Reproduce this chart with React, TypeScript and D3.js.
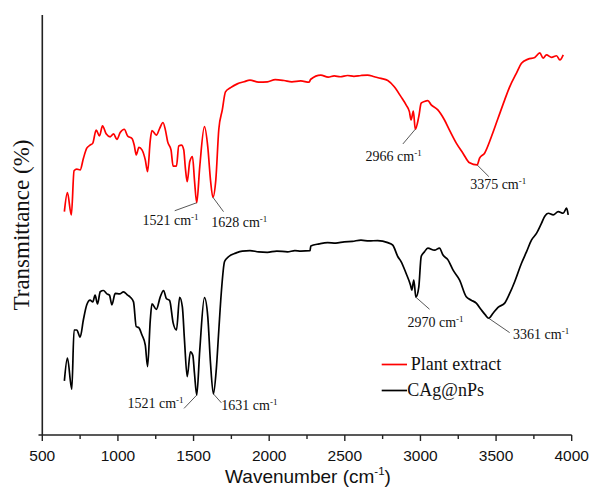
import React from "react";
import * as d3 from "d3";

// Plant extract spectrum: [wavenumber (cm-1), transmittance (arb. %)]
const plantWavenumber = [646, 666, 692, 710, 728, 750, 772, 794, 816, 834, 856, 878, 898, 922, 949, 971, 993, 1015, 1042, 1064, 1093, 1108, 1121, 1139, 1159, 1181, 1196, 1214, 1225, 1254, 1276, 1298, 1314, 1329, 1351, 1365, 1387, 1402, 1420, 1435, 1446, 1458, 1475, 1493, 1506, 1521, 1541, 1572, 1594, 1612, 1628, 1647, 1667, 1690, 1711, 1745, 1789, 1833, 1873, 1930, 1988, 2040, 2098, 2150, 2209, 2264, 2275, 2341, 2390, 2430, 2470, 2518, 2560, 2607, 2650, 2695, 2739, 2784, 2827, 2872, 2905, 2927, 2938, 2953, 2966, 2989, 3005, 3026, 3049, 3071, 3115, 3159, 3192, 3237, 3281, 3325, 3375, 3391, 3424, 3469, 3513, 3557, 3590, 3634, 3668, 3712, 3756, 3789, 3811, 3833, 3867, 3900, 3922, 3944];
const plantT = [53.2, 57.7, 52.4, 62.9, 63.3, 63.1, 65.9, 68.3, 69.0, 69.5, 72.6, 71.2, 73.6, 71.7, 71.0, 71.7, 70.4, 72.0, 72.8, 71.2, 70.6, 69.0, 66.7, 68.5, 67.9, 65.5, 62.7, 70.2, 72.5, 71.4, 73.0, 74.4, 72.6, 69.8, 67.9, 64.0, 64.0, 68.8, 69.0, 67.9, 63.5, 60.3, 65.1, 66.3, 60.7, 55.3, 63.9, 73.4, 68.6, 60.7, 56.6, 60.7, 72.8, 77.4, 81.7, 82.7, 83.6, 84.1, 84.5, 84.0, 84.1, 84.6, 84.4, 84.1, 84.3, 84.0, 84.7, 85.7, 85.2, 85.5, 85.3, 85.6, 85.4, 85.6, 85.7, 85.3, 84.9, 84.4, 82.9, 80.5, 78.6, 77.0, 75.0, 77.1, 72.8, 75.8, 79.0, 79.4, 79.6, 78.6, 77.4, 75.0, 72.6, 69.5, 67.1, 64.8, 64.3, 65.9, 67.1, 71.0, 75.4, 79.8, 82.9, 86.1, 88.5, 89.5, 89.9, 91.0, 89.7, 90.5, 89.9, 90.3, 89.3, 90.5];

// CAg@nPs spectrum
const cagWavenumber = [646, 666, 695, 710, 728, 750, 772, 794, 816, 834, 849, 865, 883, 904, 927, 944, 960, 982, 1011, 1037, 1064, 1082, 1103, 1121, 1137, 1159, 1181, 1196, 1214, 1225, 1254, 1280, 1302, 1320, 1342, 1365, 1387, 1408, 1426, 1440, 1458, 1479, 1495, 1506, 1521, 1541, 1572, 1594, 1612, 1631, 1650, 1667, 1683, 1705, 1733, 1778, 1822, 1873, 1930, 1988, 2050, 2121, 2170, 2209, 2270, 2275, 2330, 2386, 2440, 2496, 2550, 2607, 2660, 2717, 2784, 2817, 2850, 2872, 2905, 2934, 2943, 2956, 2970, 2989, 3005, 3026, 3049, 3093, 3126, 3148, 3182, 3215, 3259, 3303, 3336, 3369, 3402, 3429, 3451, 3480, 3513, 3557, 3590, 3623, 3668, 3701, 3734, 3767, 3800, 3822, 3845, 3878, 3911, 3944, 3966, 3977];
const cagT = [12.9, 18.3, 10.9, 25.0, 25.0, 23.3, 27.5, 31.0, 32.1, 31.7, 33.3, 31.2, 34.1, 34.4, 33.6, 33.3, 31.0, 33.7, 33.6, 34.1, 33.3, 32.8, 31.7, 25.8, 25.6, 23.8, 21.4, 16.3, 27.4, 31.2, 29.9, 32.9, 34.4, 32.5, 32.0, 26.7, 25.0, 32.8, 30.5, 22.6, 13.9, 19.8, 19.0, 14.7, 9.5, 20.2, 32.7, 28.2, 17.1, 9.8, 15.5, 25.0, 33.7, 41.3, 42.5, 43.3, 43.8, 43.9, 43.6, 43.5, 43.8, 43.6, 43.9, 43.8, 43.9, 45.0, 45.5, 45.8, 45.7, 46.0, 46.1, 46.4, 46.2, 46.3, 45.8, 45.2, 42.5, 41.3, 38.5, 35.7, 34.5, 36.9, 32.8, 35.2, 42.5, 43.6, 44.5, 44.0, 44.5, 42.9, 41.7, 39.3, 36.9, 32.9, 32.1, 31.4, 29.8, 28.6, 27.8, 29.0, 30.4, 31.4, 33.7, 36.5, 40.9, 43.6, 46.4, 48.0, 50.4, 52.1, 52.8, 52.4, 53.2, 52.8, 54.0, 52.4];

const xTicks = [500, 1000, 1500, 2000, 2500, 3000, 3500, 4000];
const xMinorTicks = [750, 1250, 1750, 2250, 2750, 3250, 3750];

// Peak annotations
const annLabels = ["1521", "1628", "2966", "3375", "1521", "1631", "2970", "3361"];
const annSeries = ["plant", "plant", "plant", "plant", "cag", "cag", "cag", "cag"];
const annAnchorX = [1521, 1628, 2966, 3375, 1521, 1631, 2970, 3451];
// leader end offset and text offset (px) from anchor
const annLeader = [[-22, 8], [10.6, 14.4], [-12.4, 14.7], [11.7, 11.7], [-12.7, 13.3], [8, 9], [13.6, 12], [21, 14.4]];
const annText = [[-54.3, 22.3], [-1.7, 29.4], [-49.7, 31.4], [-7, 24], [-69.3, 13], [8, 16], [-8.4, 30], [24.4, 21]];

const legendLabels = ["Plant extract", "CAg@nPs"];
const legendColors = ["#ff0000", "#000000"];

export default function App() {
  const W = 592, H = 487;
  const x = d3.scaleLinear().domain([500, 4000]).range([42.3, 571.7]);
  const y = d3.scaleLinear().domain([0, 100]).range([435, 15]);

  const mk = (wn: number[], t: number[]) =>
    d3
      .line<[number, number]>()
      .x((d) => x(d[0]))
      .y((d) => y(d[1]))
      .curve(d3.curveMonotoneX)(wn.map((w, i) => [w, t[i]] as [number, number])) || "";

  const plantPath = mk(plantWavenumber, plantT);
  const cagPath = mk(cagWavenumber, cagT);

  const valueAt = (series: string, wn: number) => {
    const ws = series === "plant" ? plantWavenumber : cagWavenumber;
    const ts = series === "plant" ? plantT : cagT;
    let best = 0;
    for (let i = 0; i < ws.length; i++) {
      if (Math.abs(ws[i] - wn) < Math.abs(ws[best] - wn)) best = i;
    }
    return ts[best];
  };

  const serif = "'Liberation Serif', 'Times New Roman', serif";
  const sans = "'Liberation Sans', Arial, sans-serif";
  const axisY = y(0);

  return (
    <svg
      width={W}
      height={H}
      style={{ position: "absolute", left: 0, top: 0, background: "#fff" }}
    >
      <rect x={0} y={0} width={W} height={H} fill="#fff" />
      {/* axes */}
      <line x1={38.5} x2={x(4000)} y1={axisY} y2={axisY} stroke="#222" strokeWidth={1.6} />
      <line x1={x(500)} x2={x(500)} y1={y(100)} y2={axisY} stroke="#222" strokeWidth={1.6} />
      {xTicks.map((t) => (
        <g key={t}>
          <line x1={x(t)} x2={x(t)} y1={axisY} y2={axisY + 6} stroke="#222" strokeWidth={1.4} />
          <text x={x(t)} y={461} textAnchor="middle" fontFamily={sans} fontSize={15.5} fill="#111">
            {t}
          </text>
        </g>
      ))}
      {xMinorTicks.map((t) => (
        <line key={t} x1={x(t)} x2={x(t)} y1={axisY} y2={axisY + 4} stroke="#222" strokeWidth={1.4} />
      ))}
      <text x={308} y={482.5} textAnchor="middle" fontFamily={sans} fontSize={19} fill="#111">
        Wavenumber (cm
        <tspan fontSize={11.5} dy={-8}>-1</tspan>
        <tspan dy={8}>)</tspan>
      </text>
      <text
        transform={`translate(29,${(y(100) + axisY) / 2}) rotate(-90)`}
        textAnchor="middle"
        fontFamily={serif}
        fontSize={23}
        fill="#111"
      >
        Transmittance (%)
      </text>

      {/* spectra */}
      <path d={plantPath} fill="none" stroke="#ff0000" strokeWidth={1.7} strokeLinejoin="round" />
      <path d={cagPath} fill="none" stroke="#000" strokeWidth={1.7} strokeLinejoin="round" />

      {/* annotations */}
      {annLabels.map((lab, i) => {
        const ax = x(annAnchorX[i]);
        const ay = y(valueAt(annSeries[i], annAnchorX[i]));
        return (
          <g key={i}>
            <line
              x1={ax}
              y1={ay}
              x2={ax + annLeader[i][0]}
              y2={ay + annLeader[i][1]}
              stroke="#444"
              strokeWidth={0.9}
            />
            <text x={ax + annText[i][0]} y={ay + annText[i][1]} fontFamily={serif} fontSize={14} fill="#111">
              {lab} cm
              <tspan fontSize={9} dy={-5}>-1</tspan>
            </text>
          </g>
        );
      })}

      {/* legend */}
      {legendLabels.map((lab, i) => (
        <g key={lab}>
          <line x1={381.7} x2={407} y1={364.5 + i * 26} y2={364.5 + i * 26} stroke={legendColors[i]} strokeWidth={1.7} />
          <text x={i === 0 ? 410.7 : 407.3} y={369.5 + i * 26} fontFamily={serif} fontSize={18} fill="#111">
            {lab}
          </text>
        </g>
      ))}
    </svg>
  );
}
